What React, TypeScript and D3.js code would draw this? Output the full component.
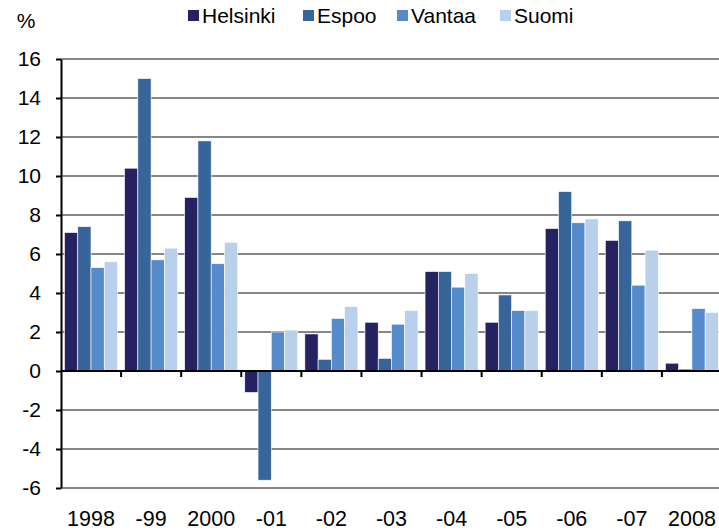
import { useRef, useEffect } from "react";
import * as d3 from "d3";

const width = 719;
const height = 532;

const years = ["1998", "-99", "2000", "-01", "-02", "-03", "-04", "-05", "-06", "-07", "2008"];
const seriesNames = ["Helsinki", "Espoo", "Vantaa", "Suomi"];
const helsinki = [7.1, 10.4, 8.9, -1.1, 1.9, 2.5, 5.1, 2.5, 7.3, 6.7, 0.4];
const espoo = [7.4, 15.0, 11.8, -5.6, 0.6, 0.65, 5.1, 3.9, 9.2, 7.7, 0.1];
const vantaa = [5.3, 5.7, 5.5, 2.0, 2.7, 2.4, 4.3, 3.1, 7.6, 4.4, 3.2];
const suomi = [5.6, 6.3, 6.6, 2.1, 3.3, 3.1, 5.0, 3.1, 7.8, 6.2, 3.0];
const yTicks = [-6, -4, -2, 0, 2, 4, 6, 8, 10, 12, 14, 16];

const COLORS = ["#262262", "#386599", "#558acb", "#b9d0ec"];
const FONT = "'Liberation Sans', Arial, sans-serif";

export default function App() {
  const ref = useRef<SVGSVGElement | null>(null);

  useEffect(() => {
    const svg = d3.select(ref.current);
    svg.selectAll("*").remove();

    const values = [helsinki, espoo, vantaa, suomi];

    const x0 = d3.scaleBand<string>().domain(years).range([61, 722]).padding(0);
    const x1 = d3.scaleBand<string>().domain(seriesNames).range([3.5, 56.5]).padding(0);
    const y = d3.scaleLinear().domain([-6, 16]).range([488, 59]);

    // grid
    svg
      .append("g")
      .selectAll("line")
      .data(yTicks.filter((t) => t !== 0))
      .join("line")
      .attr("x1", 61)
      .attr("x2", width)
      .attr("y1", (d) => y(d))
      .attr("y2", (d) => y(d))
      .attr("stroke", "#878787")
      .attr("stroke-width", 2);

    // bars
    years.forEach((yr, i) => {
      const g = svg.append("g").attr("transform", `translate(${x0(yr)},0)`);
      seriesNames.forEach((s, j) => {
        const v = values[j][i];
        g.append("rect")
          .attr("x", x1(s)!)
          .attr("width", x1.bandwidth())
          .attr("y", y(Math.max(0, v)))
          .attr("height", Math.abs(y(v) - y(0)))
          .attr("fill", COLORS[j])
          .attr("stroke", "#ffffff")
          .attr("stroke-width", 0.6);
      });
    });

    // x axis at zero
    const xAxis = svg.append("g").attr("transform", `translate(0,${y(0)})`);
    xAxis
      .append("line")
      .attr("x1", 61)
      .attr("x2", width)
      .attr("stroke", "#000")
      .attr("stroke-width", 2);
    xAxis
      .selectAll("line.tick")
      .data(years.slice(1))
      .join("line")
      .attr("class", "tick")
      .attr("x1", (d) => x0(d)!)
      .attr("x2", (d) => x0(d)!)
      .attr("y1", 0)
      .attr("y2", 6)
      .attr("stroke", "#000")
      .attr("stroke-width", 2);

    // x labels
    svg
      .append("g")
      .selectAll("text")
      .data(years)
      .join("text")
      .attr("x", (d) => x0(d)! + x0.bandwidth() / 2)
      .attr("y", 526)
      .attr("text-anchor", "middle")
      .attr("font-family", FONT)
      .attr("font-size", 21.5)
      .attr("fill", "#000")
      .text((d) => d);

    // y axis
    const yAxis = svg
      .append("g")
      .attr("transform", "translate(61,0)")
      .call(
        d3
          .axisLeft(y)
          .tickValues(yTicks)
          .tickFormat((d) => String(d))
          .tickSize(5)
          .tickSizeOuter(0)
          .tickPadding(15)
      );
    yAxis.select(".domain").attr("stroke", "#000").attr("stroke-width", 2);
    yAxis.selectAll(".tick line").attr("stroke", "#000").attr("stroke-width", 2);
    yAxis
      .selectAll(".tick text")
      .attr("font-family", FONT)
      .attr("font-size", 21)
      .attr("fill", "#000");

    // unit
    svg
      .append("text")
      .attr("x", 26)
      .attr("y", 28)
      .attr("text-anchor", "middle")
      .attr("font-family", FONT)
      .attr("font-size", 21)
      .text("%");

    // legend
    const legendX = [188, 303, 397, 500];
    const legend = svg.append("g");
    seriesNames.forEach((s, j) => {
      legend
        .append("rect")
        .attr("x", legendX[j])
        .attr("y", 10)
        .attr("width", 11)
        .attr("height", 11)
        .attr("fill", COLORS[j]);
      legend
        .append("text")
        .attr("x", legendX[j] + 14)
        .attr("y", 23)
        .attr("font-family", FONT)
        .attr("font-size", 21)
        .text(s);
    });
  }, []);

  return (
    <svg
      ref={ref}
      width={width}
      height={height}
      style={{ position: "absolute", left: 0, top: 0, background: "#fff" }}
    />
  );
}
